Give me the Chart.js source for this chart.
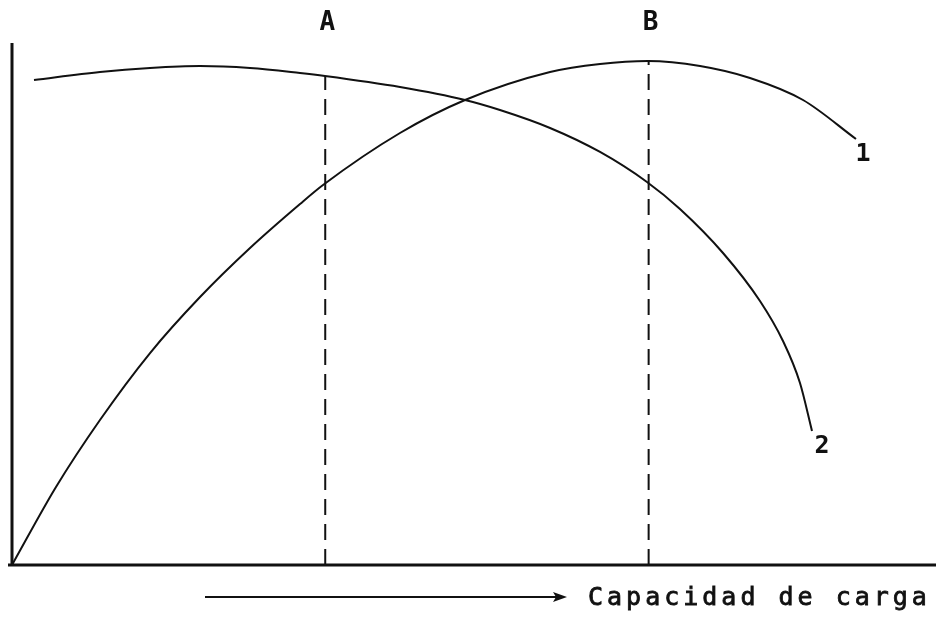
<!DOCTYPE html>
<html>
<head>
<meta charset="utf-8">
<script src="https://cdn.jsdelivr.net/npm/chart.js@4/dist/chart.umd.min.js"></script>
<style>
  html, body { margin: 0; padding: 0; background: #fff; }
  #wrap { width: 936px; height: 617px; position: relative; }
</style>
</head>
<body>
<div id="wrap"><canvas id="c" width="936" height="617"></canvas></div>
<script>
// ---- data (x: 0-100 along "Capacidad de carga", y: 0-100) ----
const curve1X = [0, 4.76, 9.52, 14.94, 20.35, 25.76, 31.17, 33.66, 41.99, 49.03, 58.23, 63.64, 68.83, 74.46, 79.87, 85.61, 91.34];
const curve1Y = [0, 14.94, 27.78, 40.61, 51.34, 60.73, 69.16, 72.80, 82.76, 89.08, 94.44, 95.98, 96.55, 95.59, 93.30, 89.08, 81.61];
const curve2X = [2.38, 9.52, 14.94, 20.35, 25.76, 31.17, 33.87, 41.99, 49.03, 52.81, 58.23, 63.64, 68.72, 72.29, 76.95, 80.95, 83.44, 85.28, 86.58];
const curve2Y = [92.91, 94.44, 95.21, 95.59, 95.21, 94.25, 93.68, 91.57, 89.08, 87.16, 83.72, 79.12, 73.37, 68.20, 59.77, 50.57, 42.91, 34.87, 25.67];
const markerNames = ['A', 'B'];
const markerX = [33.9, 68.9];
const markerTopY = [93.7, 96.6];
const curveNames = ['1', '2'];
const axisTitle = 'Capacidad de carga';

const toPts = (xs, ys) => xs.map((x, i) => ({ x, y: ys[i] }));

const datasets = [
  { data: toPts(curve1X, curve1Y), borderColor: '#111', borderWidth: 2, pointRadius: 0, showLine: true, cubicInterpolationMode: 'monotone', fill: false },
  { data: toPts(curve2X, curve2Y), borderColor: '#111', borderWidth: 2, pointRadius: 0, showLine: true, cubicInterpolationMode: 'monotone', fill: false }
];
markerX.forEach((mx, i) => {
  datasets.push({ data: [{ x: mx, y: 0 }, { x: mx, y: markerTopY[i] }], borderColor: '#111', borderWidth: 2, borderDash: [16, 9], pointRadius: 0, showLine: true, tension: 0, fill: false });
});

const decor = {
  id: 'decor',
  afterDatasetsDraw(chart) {
    const { ctx, chartArea: a, scales: { x, y } } = chart;
    ctx.save();
    ctx.strokeStyle = '#111';
    ctx.fillStyle = '#111';
    // axes
    ctx.lineWidth = 3;
    ctx.beginPath();
    ctx.moveTo(a.left, a.top);
    ctx.lineTo(a.left, a.bottom);
    ctx.moveTo(a.left - 4, a.bottom);
    ctx.lineTo(a.right, a.bottom);
    ctx.stroke();
    // marker labels A, B
    ctx.font = 'bold 26px "DejaVu Sans Mono"';
    ctx.textAlign = 'center';
    ctx.textBaseline = 'middle';
    markerNames.forEach((n, i) => ctx.fillText(n, x.getPixelForValue(markerX[i]) + 2, a.top - 20));
    // curve labels
    ctx.font = 'bold 25px "DejaVu Sans Mono"';
    const c1 = [curve1X[curve1X.length - 1], curve1Y[curve1Y.length - 1]];
    const c2 = [curve2X[curve2X.length - 1], curve2Y[curve2Y.length - 1]];
    ctx.fillText(curveNames[0], x.getPixelForValue(c1[0]) + 7, y.getPixelForValue(c1[1]) + 16);
    ctx.fillText(curveNames[1], x.getPixelForValue(c2[0]) + 10, y.getPixelForValue(c2[1]) + 15);
    // arrow and axis title
    const ay = a.bottom + 32;
    ctx.lineWidth = 2;
    ctx.beginPath();
    ctx.moveTo(205, ay);
    ctx.lineTo(558, ay);
    ctx.stroke();
    ctx.beginPath();
    ctx.moveTo(567, ay);
    ctx.lineTo(553, ay - 5);
    ctx.lineTo(556, ay);
    ctx.lineTo(553, ay + 5);
    ctx.closePath();
    ctx.fill();
    ctx.font = '25px "DejaVu Sans Mono"';
    ctx.letterSpacing = '4px';
    ctx.textAlign = 'left';
    ctx.lineWidth = 0.8;
    ctx.fillText(axisTitle, 588, ay + 1);
    ctx.strokeText(axisTitle, 588, ay + 1);
    ctx.restore();
  }
};

new Chart(document.getElementById('c'), {
  type: 'scatter',
  data: { datasets },
  options: {
    responsive: false,
    animation: false,
    layout: { padding: { left: 12, right: 0, top: 43, bottom: 52 } },
    plugins: { legend: { display: false }, tooltip: { enabled: false } },
    scales: {
      x: { type: 'linear', min: 0, max: 100, display: false },
      y: { type: 'linear', min: 0, max: 100, display: false }
    },
    elements: { line: { borderCapStyle: 'butt' } }
  },
  plugins: [decor]
});
</script>
</body>
</html>
